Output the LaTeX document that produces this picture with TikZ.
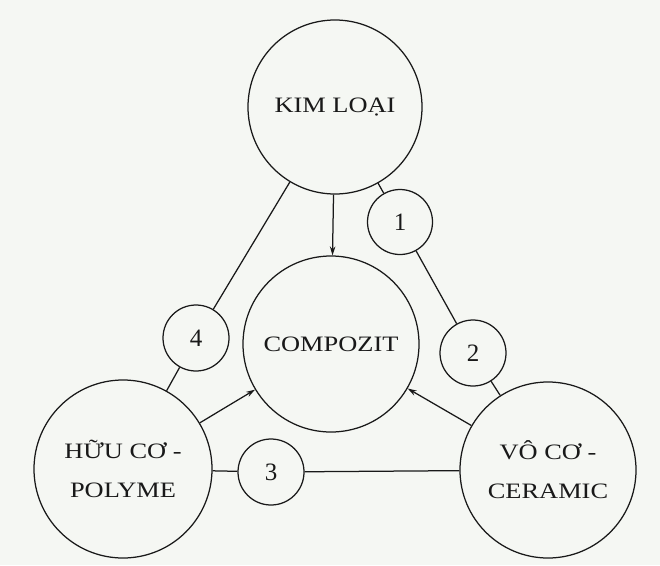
\documentclass[tikz,border=0pt]{standalone}
\usepackage{fontspec}
\setmainfont{Liberation Serif}
\usetikzlibrary{arrows.meta}
\definecolor{paper}{RGB}{245,247,243}
\definecolor{ink}{RGB}{25,25,25}
\newcommand{\wide}[1]{\scalebox{1.2}[1]{#1}}
\begin{document}
\begin{tikzpicture}[x=1pt,y=-1pt,
  big/.style={draw=ink,line width=1.25pt,circle,inner sep=0pt,
    font=\fontsize{22}{39}\selectfont,align=center,text=ink},
  small/.style={draw=ink,line width=1.25pt,circle,inner sep=0pt,
    minimum size=65pt,font=\fontsize{25}{30}\selectfont,text=ink},
  link/.style={draw=ink,line width=1.25pt},
  feed/.style={draw=ink,line width=1.25pt,-{Stealth[length=9pt,width=5.5pt]}}]
\fill[paper] (0,0) rectangle (660,565);
\useasboundingbox (0,0) rectangle (660,565);
\node[big,minimum size=174pt] (KL) at (335,107) {\wide{KIM LOẠI}};
\node[big,minimum size=176pt] (CP) at (331,344) {\wide{COMPOZIT}};
\node[big,minimum size=178pt] (HC) at (123,469) {\wide{HỮU CƠ -}\\\wide{POLYME}};
\node[big,minimum size=176pt] (VC) at (548,470) {\wide{VÔ CƠ -}\\\wide{CERAMIC}};
\node[small] (c1) at (400,222) {1};
\node[small,minimum size=66pt] (c2) at (473,353) {2};
\node[small,minimum size=66pt] (c3) at (271,472) {3};
\node[small,minimum size=66pt] (c4) at (196,338) {4};
\draw[link] (KL) -- (c4);
\draw[link] (c4) -- (HC);
\draw[link] (KL) -- (c1);
\draw[link] (c1) -- (c2);
\draw[link] (c2) -- (VC);
\draw[link] (HC) -- (c3);
\draw[link] (c3) -- (VC);
\draw[feed] (KL) -- (CP);
\draw[feed] (HC) -- (CP);
\draw[feed] (VC) -- (CP);
\end{tikzpicture}
\end{document}
